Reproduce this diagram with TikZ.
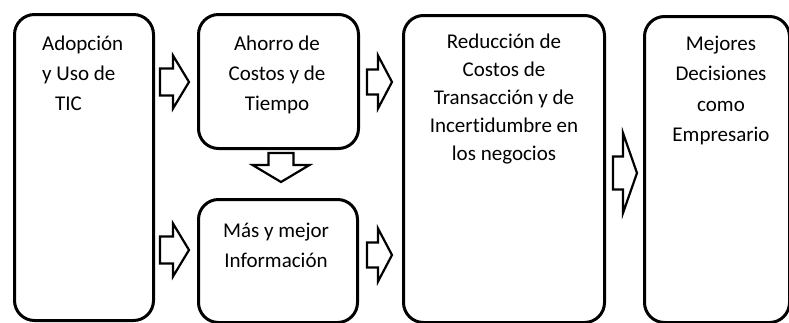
\documentclass[tikz,border=0pt]{standalone}
\usepackage{fontspec}
\setmainfont{Carlito}[Ligatures={NoCommon}]
\newcommand\mylines[3]{\fontsize{21}{#1}\selectfont\begin{tabular}[t]{@{}#2@{}}#3\end{tabular}}
\tikzset{
  box/.style={draw, line width=3pt, rounded corners=20pt, inner sep=0pt, anchor=north west},
  barrow/.style={draw, line width=2.2pt, fill=white, line join=miter},
  txt/.style={inner sep=0pt, anchor=base}
}
\begin{document}
\begin{tikzpicture}[x=1pt, y=-1pt]
\useasboundingbox (0,0) rectangle (789,322);
% boxes
\node[box, minimum width=139pt, minimum height=306pt] (b1) at (13,13) {};
\node[box, minimum width=160pt, minimum height=134pt] (b2) at (197,13) {};
\node[box, minimum width=159pt, minimum height=123pt] (b3) at (197,198) {};
\node[box, minimum width=201pt, minimum height=307pt] (b4) at (402,14) {};
\node[box, minimum width=145pt, minimum height=306pt] (b5) at (643,15) {};
% texts
\node[txt, anchor=base west] (t1) at (42,50) {\mylines{30pt}{l}{Adopción\\y Uso de\\\hspace*{13pt}TIC}};
\node[txt] (t2) at (277,50) {\mylines{30pt}{c}{Ahorro de\\Costos y de\\Tiempo}};
\node[txt] (t3) at (276,237) {\mylines{30pt}{c}{Más y mejor\\Información}};
\node[txt] (t4) at (504,48) {\mylines{28pt}{c}{Reducción de\\Costos de\\Transacción y de\\Incertidumbre en\\los negocios}};
\node[txt] (t5) at (721,50) {\mylines{30.5pt}{c}{Mejores\\Decisiones\\como\\Empresario}};
% block arrows (right)
\draw[barrow, shift={(174.5,82)}] (-14.5,-13.5) -- (-1.5,-13.5) -- (-1.5,-26.5) -- (14.5,0) -- (-1.5,26.5) -- (-1.5,13.5) -- (-14.5,13.5) -- cycle;
\draw[barrow, shift={(174.5,250)}] (-14.5,-13.5) -- (-1.5,-13.5) -- (-1.5,-26.5) -- (14.5,0) -- (-1.5,26.5) -- (-1.5,13.5) -- (-14.5,13.5) -- cycle;
\draw[barrow, shift={(379.5,82)}] (-12.5,-12.5) -- (-1.5,-12.5) -- (-1.5,-26.5) -- (12.5,0) -- (-1.5,26.5) -- (-1.5,12.5) -- (-12.5,12.5) -- cycle;
\draw[barrow, shift={(379.5,255)}] (-12.5,-12.5) -- (-1.5,-12.5) -- (-1.5,-26.5) -- (12.5,0) -- (-1.5,26.5) -- (-1.5,12.5) -- (-12.5,12.5) -- cycle;
\draw[barrow, shift={(625,173)}] (-12,-16.5) -- (-2,-16.5) -- (-2,-40) -- (12,0) -- (-2,40) -- (-2,16.5) -- (-12,16.5) -- cycle;
% block arrow (down)
\draw[barrow, shift={(281,167.5)}] (-12.5,-14.5) -- (12.5,-14.5) -- (12.5,-2.5) -- (28.5,-2.5) -- (0,14.5) -- (-28.5,-2.5) -- (-12.5,-2.5) -- cycle;
\end{tikzpicture}
\end{document}
